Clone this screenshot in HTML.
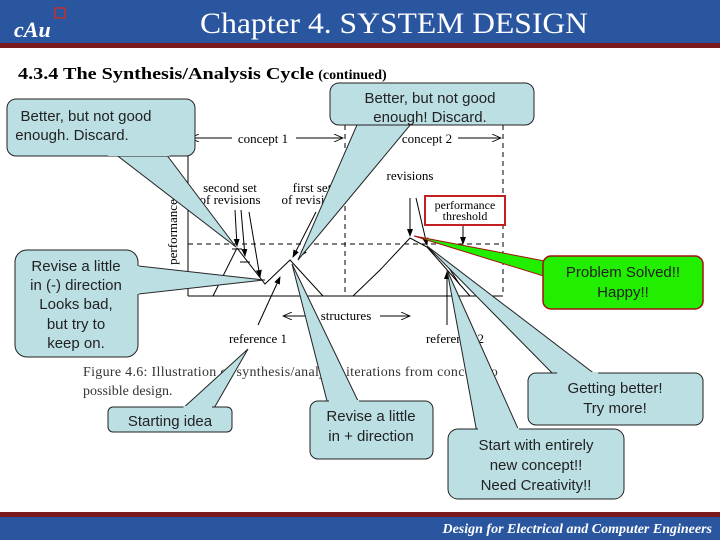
<!DOCTYPE html>
<html><head><meta charset="utf-8"><style>
html,body{margin:0;padding:0;background:#fff}
svg{display:block}
.s{font-family:"Liberation Serif",serif}
.c{font-family:"Liberation Sans",sans-serif;font-size:15px;fill:#222}
</style></head><body>
<svg width="720" height="540" viewBox="0 0 720 540" xmlns="http://www.w3.org/2000/svg">
<defs><marker id="a" markerWidth="8" markerHeight="8" refX="7" refY="4" orient="auto" markerUnits="userSpaceOnUse"><path d="M0,1 L8,4 L0,7 z" fill="#000"/></marker>
<marker id="o" markerWidth="10" markerHeight="8" refX="9" refY="4" orient="auto" markerUnits="userSpaceOnUse"><path d="M0,0 L9,4 L0,8" fill="none" stroke="#000" stroke-width="0.8"/></marker></defs>
<rect x="0" y="0" width="720" height="43" fill="#2a56a0"/>
<rect x="0" y="43" width="720" height="5" fill="#7a1a1a"/>
<text x="14" y="37" fill="#fff" font-family="Liberation Serif" font-style="italic" font-weight="bold" font-size="22">cAu</text>
<rect x="55" y="8" width="10" height="10" fill="none" stroke="#c03030" stroke-width="1.5"/>
<text x="200" y="33" class="s" fill="#fff" font-size="30" textLength="388" lengthAdjust="spacingAndGlyphs">Chapter 4. SYSTEM DESIGN</text>
<text x="18" y="79" class="s" font-weight="bold" font-size="17"><tspan textLength="296" lengthAdjust="spacingAndGlyphs">4.3.4 The Synthesis/Analysis Cycle</tspan> <tspan font-size="14">(continued)</tspan></text>
<rect x="0" y="512" width="720" height="5" fill="#7a1a1a"/>
<rect x="0" y="517" width="720" height="23" fill="#2a56a0"/>
<text x="712" y="533" text-anchor="end" class="s" fill="#fff" font-style="italic" font-weight="bold" font-size="14">Design for Electrical and Computer Engineers</text>

<g stroke="#000" stroke-width="1" fill="none">
<line x1="188" y1="128" x2="188" y2="296"/>
<line x1="188" y1="296" x2="503" y2="296"/>
<line x1="345" y1="125" x2="345" y2="296" stroke-dasharray="5,4"/>
<line x1="503" y1="125" x2="503" y2="296" stroke-dasharray="5,4"/>
<line x1="188" y1="244" x2="503" y2="244" stroke-dasharray="5,4"/>
<line x1="232" y1="138" x2="190" y2="138" marker-end="url(#o)"/>
<line x1="296" y1="138" x2="343" y2="138" marker-end="url(#o)"/>
<line x1="458" y1="138" x2="501" y2="138" marker-end="url(#o)"/>
<line x1="310" y1="316" x2="283" y2="316" marker-end="url(#o)"/>
<line x1="380" y1="316" x2="410" y2="316" marker-end="url(#o)"/>
<polyline points="213,296 237,248 265,284 290,260 323,296"/>
<polyline points="353,296 380,270 410,238 427,247 470,296"/>
<polyline points="427,247 447,265 460,285"/>
<line x1="235" y1="210" x2="237" y2="246" marker-end="url(#a)"/>
<line x1="241" y1="210" x2="245" y2="256" marker-end="url(#a)"/>
<line x1="249" y1="212" x2="260" y2="277" marker-end="url(#a)"/>
<line x1="316" y1="212" x2="293" y2="257" marker-end="url(#a)"/>
<line x1="330" y1="220" x2="300" y2="256" marker-end="url(#a)"/>
<line x1="258" y1="325" x2="280" y2="277" marker-end="url(#a)"/>
<line x1="447" y1="325" x2="447" y2="272" marker-end="url(#a)"/>
<line x1="410" y1="198" x2="410" y2="236" marker-end="url(#a)"/>
<line x1="416" y1="198" x2="427" y2="245" marker-end="url(#a)"/>
<line x1="463" y1="225" x2="463" y2="244" marker-end="url(#a)"/>
<line x1="232" y1="249" x2="242" y2="249"/><line x1="240" y1="262" x2="250" y2="262"/><line x1="255" y1="280" x2="265" y2="280"/>
</g>
<g class="s" font-size="13" text-anchor="middle">
<text x="263" y="143">concept 1</text>
<text x="427" y="143">concept 2</text>
<text x="230" y="192">second set</text><text x="230" y="204">of revisions</text>
<text x="312" y="192">first set</text><text x="312" y="204">of revisions</text>
<text x="410" y="180">revisions</text>
<text x="346" y="320">structures</text>
<text x="258" y="343">reference 1</text>
<text x="455" y="343">reference 2</text>
<text transform="translate(177,232) rotate(-90)">performance</text>
</g>
<rect x="425" y="196" width="80" height="29" fill="#fff" stroke="#c02020" stroke-width="2"/>
<text x="465" y="209" class="s" font-size="12" text-anchor="middle">performance</text>
<text x="465" y="220" class="s" font-size="12" text-anchor="middle">threshold</text>
<text x="83" y="376" class="s" font-size="14" fill="#333" letter-spacing="0.3">Figure 4.6:  Illustration of synthesis/analysis iterations from concept to</text>
<text x="83" y="395" class="s" font-size="14" fill="#333">possible design.</text>

<g fill="#bcdfe4" stroke="#222" stroke-width="1">
<polygon points="110,150 163,150 236,247"/>
<rect x="7" y="99" width="188" height="57" rx="9"/>
<polygon points="360,118 416,118 298,260"/>
<rect x="330" y="83" width="204" height="42" rx="9"/>
<polygon points="130,265 130,295 264,280"/>
<rect x="15" y="250" width="123" height="107" rx="12"/>
<polygon points="181,410 213,410 248,349"/>
<rect x="108" y="407" width="124" height="25" rx="5"/>
<polygon points="328,405 360,405 292,264"/>
<rect x="310" y="401" width="123" height="58" rx="8"/>
<polygon points="557,378 600,378 427,246"/>
<rect x="528" y="373" width="175" height="52" rx="8"/>
<polygon points="477,433 520,433 447,270"/>
<rect x="448" y="429" width="176" height="70" rx="10"/>
<polygon points="550,262 550,278 414,236" fill="#22ee00" stroke="#a01010"/>
<rect x="543" y="256" width="160" height="53" rx="8" fill="#22ee00" stroke="#a01010" stroke-width="1.5"/>
</g>
<g stroke="none" fill="#bcdfe4">
<polygon points="111,151 162,151 170,156 108,156"/>
<polygon points="361,119 415,119 411,124 357,124"/>
<polygon points="131,266 139,266 139,294 131,294"/>
<polygon points="182,411 212,411 212,406 184,406"/>
<polygon points="329,406 359,406 359,400 329,400"/>
<polygon points="558,379 599,379 598,372 557,372"/>
<polygon points="478,434 519,434 519,428 478,428"/>
</g>
<polygon points="544,263 544,277 551,278 551,262" fill="#22ee00"/>
<g class="c" text-anchor="middle">
<text x="86" y="121">Better, but not good</text><text x="72" y="140">enough. Discard.</text>
<text x="430" y="103">Better, but not good</text><text x="430" y="122">enough! Discard.</text>
<text x="76" y="271">Revise a little</text><text x="76" y="290">in (-) direction</text><text x="76" y="309">Looks bad,</text><text x="76" y="329">but try to</text><text x="76" y="348">keep on.</text>
<text x="170" y="426">Starting idea</text>
<text x="371" y="421">Revise a little</text><text x="371" y="441">in + direction</text>
<text x="615" y="393">Getting better!</text><text x="615" y="413">Try more!</text>
<text x="536" y="450">Start with entirely</text><text x="536" y="470">new concept!!</text><text x="536" y="490">Need Creativity!!</text>
<text x="623" y="277">Problem Solved!!</text><text x="623" y="297">Happy!!</text>
</g>
</svg>
</body></html>
